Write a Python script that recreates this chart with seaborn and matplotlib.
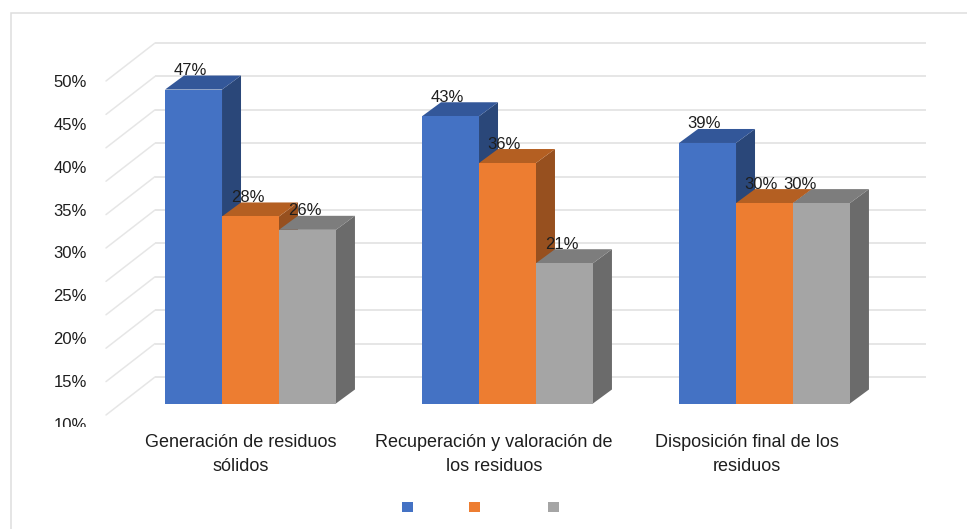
import matplotlib
matplotlib.use("Agg")
import matplotlib.pyplot as plt
import pandas as pd
import seaborn as sns
from matplotlib.lines import Line2D
from matplotlib.patches import Polygon, Rectangle
from matplotlib.transforms import Affine2D, Bbox, IdentityTransform

categories = [
    "Generación de residuos\nsólidos",
    "Recuperación y valoración de\nlos residuos",
    "Disposición final de los\nresiduos",
]
series_names = ["Serie 1", "Serie 2", "Serie 3"]
serie_1 = [47, 43, 39]
serie_2 = [28, 36, 30]
serie_3 = [26, 21, 30]
axis_ticks = [0, 5, 10, 15, 20, 25, 30, 35, 40, 45, 50]
axis_labels = [10, 15, 20, 25, 30, 35, 40, 45, 50]

FRONT = ["#4472C4", "#ED7D31", "#A5A5A5"]
TOP = ["#335799", "#B45F22", "#7D7D7D"]
SIDE = ["#2A4779", "#97501F", "#6B6B6B"]
GRID = "#E6E6E6"
FRAME = "#DEDEDE"
TEXT = "#1E1E1E"
FONT = "Liberation Sans"
SIZE_NUMBER = 12
SIZE_CATEGORY = 13

W, H = 967, 529
DEPTH = (19, 14)
WALL_BACK = (33, 26.5)
WALL_FRONT = (-16, -11.5)


def box(x0, x1, y_top, y_bottom):
    """Pixel box (origin at the top left) as a figure-fraction rectangle."""
    return [x0 / W, 1 - y_bottom / H, (x1 - x0) / W, (y_bottom - y_top) / H]


sns.set_theme(style="white")
plt.rcParams["font.family"] = FONT

fig = plt.figure(figsize=(W / 100, H / 100), dpi=100, facecolor="white")
fig.add_artist(Rectangle((10.5, -20), W + 40, H - 12.5 + 20, transform=IdentityTransform(),
                         fill=False, edgecolor=FRAME, linewidth=1.1))

ax = fig.add_axes(box(122, 893, 69.5, 403.5))
table = pd.DataFrame({
    "categoria": categories * 3,
    "serie": [s for s in series_names for _ in categories],
    "valor": serie_1 + serie_2 + serie_3,
})
sns.barplot(data=table, x="categoria", y="valor", hue="serie", order=categories,
            hue_order=series_names, palette=FRONT, saturation=1, width=0.665, gap=0,
            legend=False, linewidth=0, ax=ax, zorder=5)
ax.set_xlim(-0.5, 2.5)
ax.set_ylim(0, 50)
ax.axis("off")

# Back wall gridlines and the diagonals running along the side wall
back = ax.transData + Affine2D().translate(*WALL_BACK)
ax.hlines(axis_ticks, -0.5, 2.5, colors=GRID, linewidth=1.4, transform=back, clip_on=False, zorder=1)
for tick in axis_ticks:
    px, py = ax.transData.transform((-0.5, tick))
    fig.add_artist(Line2D([px + WALL_FRONT[0], px + WALL_BACK[0]],
                          [py + WALL_FRONT[1], py + WALL_BACK[1]],
                          transform=IdentityTransform(), color=GRID, linewidth=1.1, zorder=0))

# Extruded side and top faces, painted from the left so nearer boxes overlap
for i, name in enumerate(series_names):
    bars = ax.containers[i]
    for bar in bars:
        x0, x1 = bar.get_x(), bar.get_x() + bar.get_width()
        value = bar.get_height()
        (ax0, ay0), (ax1, ay1) = ax.transData.transform([(x0, value), (x1, value)])
        _, base = ax.transData.transform((x1, 0))
        dx, dy = DEPTH
        side = [(ax1, base), (ax1 + dx, base + dy), (ax1 + dx, ay1 + dy), (ax1, ay1)]
        top = [(ax0, ay0), (ax0 + dx, ay0 + dy), (ax1 + dx, ay1 + dy), (ax1, ay1)]
        z = 2 + 0.1 * i
        ax.add_patch(Polygon(side, closed=True, facecolor=SIDE[i], edgecolor="none",
                             transform=IdentityTransform(), clip_on=False, zorder=z))
        ax.add_patch(Polygon(top, closed=True, facecolor=TOP[i], edgecolor="none",
                             transform=IdentityTransform(), clip_on=False, zorder=z + 0.05))

# Value labels; the last one is pulled left so it clears its neighbour
label_shift = {(2, 2): -21}
for i in range(len(series_names)):
    for j, bar in enumerate(ax.containers[i]):
        value = bar.get_height()
        ax.annotate(f"{value:.0f}%", xy=(bar.get_x() + bar.get_width() / 2, value),
                    xytext=(label_shift.get((i, j), -3), 19), textcoords="offset pixels",
                    ha="center", va="center", fontsize=SIZE_NUMBER, color=TEXT, zorder=8,
                    annotation_clip=False)

# Axis text lives on a transparent overlay with its own scales
overlay = fig.add_axes(box(114.5, 873.5, 80.7, 424.3), facecolor="none")
overlay.set_xlim(-0.5, 2.5)
overlay.set_ylim(10, 50)
overlay.set_xticks(range(3), categories)
overlay.set_yticks(axis_labels, [f"{v}%" for v in axis_labels])
overlay.tick_params(axis="x", length=0, pad=7, labelsize=SIZE_CATEGORY, labelcolor=TEXT)
overlay.tick_params(axis="y", length=0, pad=20, labelsize=SIZE_NUMBER, labelcolor=TEXT)
for label in overlay.get_xticklabels():
    label.set_linespacing(1.55)
for spine in overlay.spines.values():
    spine.set_visible(False)
overlay.grid(False)

# The lowest axis label is cut by the edge of its text area
cut = Bbox([[0, H - 426.5], [W, H]])
overlay.get_yticklabels()[0].set_clip_box(cut)
overlay.get_yticklabels()[0].set_clip_on(True)

# Legend keys
for colour, x in zip(FRONT, [402, 469, 548]):
    fig.add_artist(Rectangle((x, H - 512), 10.5, 10.5, transform=IdentityTransform(),
                             facecolor=colour, edgecolor="none"))

fig.savefig("out.png", dpi=100)
